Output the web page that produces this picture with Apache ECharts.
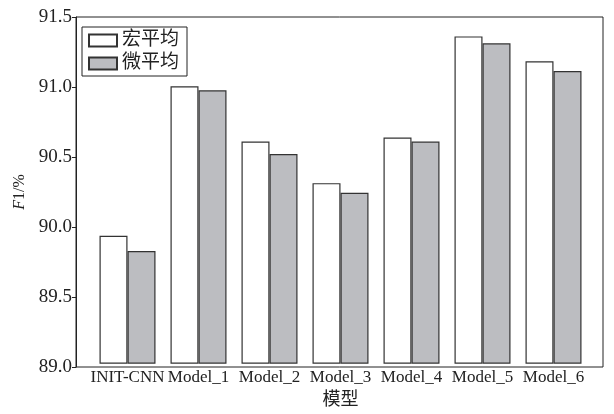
<!DOCTYPE html>
<html>
<head>
<meta charset="utf-8">
<script src="https://cdn.jsdelivr.net/npm/echarts@6/dist/echarts.min.js"></script>
<style>html,body{margin:0;padding:0;background:#fff}#c{width:614px;height:414px}</style>
</head>
<body>
<div id="c"></div>
<script>
const categories = ['INIT-CNN','Model_1','Model_2','Model_3','Model_4','Model_5','Model_6'];
const macroF1 = [89.92, 91.00, 90.60, 90.30, 90.63, 91.36, 91.18];
const microF1 = [89.81, 90.97, 90.51, 90.23, 90.60, 91.31, 91.11];
const seriesNames = ['宏平均','微平均'];
const yMin = 89.0, yMax = 91.5, yStep = 0.5;
const xName = '模型';

const FONT = "'Liberation Serif', 'Noto Sans CJK SC', serif";
const chart = echarts.init(document.getElementById('c'));
chart.setOption({
  animation: false,
  backgroundColor: '#fff',
  textStyle: {fontFamily: FONT, color: '#222'},
  grid: [
    {left: 76, right: 11, top: 17, bottom: 47, show: true, borderColor: '#222', borderWidth: 1, backgroundColor: 'transparent'},
    {left: 92, right: 25, top: 17, bottom: 47}
  ],
  legend: {
    orient: 'vertical', left: 82, top: 27,
    borderColor: '#222', borderWidth: 1, padding: [4, 8, 3, 6],
    icon: 'rect',
    itemWidth: 28, itemHeight: 12, itemGap: 4,
    textStyle: {fontFamily: FONT, fontSize: 19, color: '#222'},
    data: seriesNames
  },
  xAxis: [
    {gridIndex: 0, type: 'value', show: false, min: 0, max: 1},
    {gridIndex: 1, type: 'category', data: categories,
     axisLine: {show: false}, axisTick: {show: false},
     axisLabel: {fontFamily: FONT, fontSize: 17, color: '#222', margin: 6, interval: 0},
     name: xName, nameLocation: 'middle', nameGap: 27,
     nameTextStyle: {fontFamily: FONT, fontSize: 18, color: '#222'}}
  ],
  yAxis: [
    {gridIndex: 0, type: 'value', min: yMin, max: yMax, interval: yStep,
     axisLine: {show: true, lineStyle: {color: '#222', width: 1}},
     axisTick: {show: true, length: 4, lineStyle: {color: '#222'}},
     splitLine: {show: false},
     axisLabel: {fontFamily: FONT, fontSize: 19, color: '#222', margin: 4, formatter: v => v.toFixed(1)},
     name: '{i|F}1/%', nameLocation: 'middle', nameGap: 46,
     nameTextStyle: {fontFamily: FONT, fontSize: 16, color: '#222',
       rich: {i: {fontFamily: FONT, fontSize: 16, fontStyle: 'italic', color: '#222'}}}},
    {gridIndex: 1, type: 'value', min: yMin, max: yMax, interval: yStep, show: false, splitLine: {show: false}}
  ],
  series: [
    {name: seriesNames[0], type: 'bar', xAxisIndex: 1, yAxisIndex: 1, data: macroF1,
     barWidth: 28, barGap: '0%',
     itemStyle: {color: '#ffffff', borderColor: '#333', borderWidth: 1.2}},
    {name: seriesNames[1], type: 'bar', xAxisIndex: 1, yAxisIndex: 1, data: microF1,
     barWidth: 28, barGap: '0%',
     itemStyle: {color: '#bcbdc1', borderColor: '#333', borderWidth: 1.2}}
  ]
});
</script>
</body>
</html>
